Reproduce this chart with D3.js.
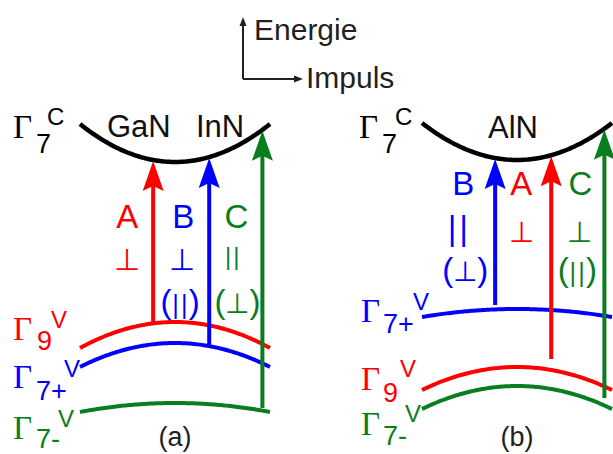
<!DOCTYPE html>
<html>
<head>
<meta charset="utf-8">
<script src="https://cdn.jsdelivr.net/npm/d3@7"></script>
<style>
  html, body { margin: 0; padding: 0; background: #fff; }
  svg { display: block; }
</style>
</head>
<body>
<svg id="chart" width="613" height="454"></svg>
<script>
// ---- data -------------------------------------------------------------
// Band order in every array: Γ7 conduction, Γ9 valence, Γ7+ valence, Γ7- valence
const bandSub = ["7", "9", "7+", "7-"];
const bandSup = ["C", "V", "V", "V"];

const panelNames = ["(a)", "(b)"];
const materialNames = [["GaN", "InN"], ["AlN"]];

// band energy at the zone centre (k = 0) and at the plotted edge (k = ±1), arbitrary units
const bandCentreA = [268, 108, 87, 27];
const bandEdgeA   = [306, 82, 63, 18];
const bandCentreB = [270, 63, 121, 44];
const bandEdgeB   = [307, 40, 113, 21];

// optical transitions: letter, starting band, momentum, start energy, polarisation
const transLetterA = ["A", "B", "C"];
const transBandA   = [1, 2, 3];
const transKA      = [-0.23, 0.36, 0.92];
const transStartA  = [108, 85, 22];
const transPol1A   = ["⊥", "⊥", "||"];
const transPol2A   = ["", "(||)", "(⊥)"];

const transLetterB = ["B", "A", "C"];
const transBandB   = [2, 1, 3];
const transKB      = [-0.23, 0.36, 0.92];
const transStartB  = [125, 71, 32];
const transPol1B   = ["||", "⊥", "⊥"];
const transPol2B   = ["(⊥)", "", "(||)"];

const axisLabels = ["Energie", "Impuls"];

// ---- styling & layout ---------------------------------------------------
const bandColor = ["#000000", "#ff0000", "#0000ff", "#0a7d1e"];
const sans = "'Liberation Sans', Arial, Helvetica, sans-serif";
const serif = "'Liberation Serif', 'Times New Roman', serif";
const symb = "'DejaVu Sans', sans-serif";
const ink = "#231f20";

const layout = [
  {
    kRange: [80, 270],
    materialPos: [[107, 137], [196, 137]],
    letterY: 228, pol1Y: 259, pol2Y: 304,
    letterDx: [-26, -26, -26], pol1Dx: [-26, -27, -30], pol2Dx: [0, -29, -25],
    perpSize: 30, parSize: 23,
    labels: [
      [13, 138, 36, 153, 47, 125],
      [13, 340, 37, 350, 51, 328],
      [13, 388, 36, 400, 64, 377],
      [13, 439, 36, 448, 58, 427]
    ]
  },
  {
    kRange: [422, 612],
    materialPos: [[488, 138]],
    letterY: 195, pol1Y: 231, pol2Y: 272,
    letterDx: [-32, -30, -24], pol1Dx: [-37, -30, -25], pol2Dx: [-30, 0, -27],
    perpSize: 29, parSize: 32,
    labels: [
      [359, 138, 382, 153, 395, 125],
      [361, 390, 383, 402, 400, 377],
      [361, 322, 383, 333, 413, 310],
      [361, 435, 383, 445, 405, 422]
    ]
  }
];

const panels = [
  { centre: bandCentreA, edge: bandEdgeA, letter: transLetterA, band: transBandA,
    k: transKA, start: transStartA, pol1: transPol1A, pol2: transPol2A },
  { centre: bandCentreB, edge: bandEdgeB, letter: transLetterB, band: transBandB,
    k: transKB, start: transStartB, pol1: transPol1B, pol2: transPol2B }
];

// ---- drawing ------------------------------------------------------------
const svg = d3.select("#chart");
svg.append("rect").attr("width", 613).attr("height", 454).attr("fill", "#fff");

const y = d3.scaleLinear().domain([0, 300]).range([430, 130]);

// energy–momentum axis key
const key = svg.append("g");
key.append("path")
  .attr("d", "M243,79 V24 M243,79 H296")
  .attr("fill", "none").attr("stroke", ink).attr("stroke-width", 2);
key.append("path").attr("d", "M243,17 L239.5,26 L246.5,26 Z").attr("fill", ink);
key.append("path").attr("d", "M303,79 L294,75.5 L294,82.5 Z").attr("fill", ink);
key.append("text").attr("x", 254).attr("y", 40)
  .style("font-family", sans).style("font-size", "30px").attr("fill", ink).text(axisLabels[0]);
key.append("text").attr("x", 306).attr("y", 88)
  .style("font-family", sans).style("font-size", "30px").attr("fill", ink).text(axisLabels[1]);

const ks = d3.range(-1, 1.0001, 0.02);

function polLine(g, str, cx, cy, size, color) {
  const t = g.append("text").attr("x", cx).attr("text-anchor", "middle").attr("fill", color);
  let base;
  if (str.startsWith("(")) base = cy + 0.26 * 33;
  else if (str === "⊥") base = cy + 0.365 * size;
  else base = cy + 0.262 * size;
  t.attr("y", base);
  if (str.startsWith("(")) {
    const inner = str.slice(1, -1);
    const innerSize = inner === "⊥" ? 28 : 24;
    t.append("tspan").style("font-family", sans).style("font-size", "33px").text("(");
    t.append("tspan").style("font-family", symb).style("font-weight", inner === "||" ? 400 : 200)
      .style("font-size", innerSize + "px")
      .style("letter-spacing", inner === "||" ? "0.5px" : "0px").text(inner);
    t.append("tspan").style("font-family", sans).style("font-size", "33px").text(")");
  } else {
    t.style("font-family", symb).style("font-weight", str === "||" ? 400 : 200)
      .style("font-size", size + "px")
      .style("letter-spacing", str === "||" ? "0.5px" : "0px").text(str);
  }
}

panels.forEach((p, pi) => {
  const L = layout[pi];
  const x = d3.scaleLinear().domain([-1, 1]).range(L.kRange);
  const g = svg.append("g");
  const bandE = (b, k) => p.centre[b] + (p.edge[b] - p.centre[b]) * k * k;

  // bands
  const line = d3.line().x(k => x(k));
  p.centre.forEach((c, b) => {
    g.append("path")
      .attr("d", line.y(k => y(bandE(b, k)))(ks))
      .attr("fill", "none")
      .attr("stroke", bandColor[b])
      .attr("stroke-width", b === 0 ? 4.5 : 4);
  });

  // band labels  Γ_sub^sup
  L.labels.forEach((pos, b) => {
    const t = g.append("text").attr("fill", bandColor[b]);
    t.append("tspan").attr("x", pos[0]).attr("y", pos[1])
      .style("font-family", serif).style("font-size", "33px").text("Γ");
    t.append("tspan").attr("x", pos[2]).attr("y", pos[3])
      .style("font-family", sans).style("font-size", "27px").text(bandSub[b]);
    t.append("tspan").attr("x", pos[4]).attr("y", pos[5])
      .style("font-family", sans).style("font-size", "24px").text(bandSup[b]);
  });

  // material names
  materialNames[pi].forEach((m, i) => {
    g.append("text").attr("x", L.materialPos[i][0]).attr("y", L.materialPos[i][1])
      .style("font-family", sans).style("font-size", "31px").attr("fill", "#111").text(m);
  });

  // transitions
  p.letter.forEach((letter, i) => {
    const col = bandColor[p.band[i]];
    const kx = x(p.k[i]);
    const yTip = y(bandE(0, p.k[i]) - 1);
    const yBot = y(p.start[i]);
    const headLen = 30, headHalf = 10.5, notch = 5;
    g.append("line")
      .attr("x1", kx).attr("x2", kx)
      .attr("y1", yBot).attr("y2", yTip + headLen - notch - 1)
      .attr("stroke", col).attr("stroke-width", 4);
    g.append("path")
      .attr("d", `M${kx},${yTip} L${kx + headHalf},${yTip + headLen} L${kx},${yTip + headLen - notch} L${kx - headHalf},${yTip + headLen} Z`)
      .attr("fill", col);

    g.append("text")
      .attr("x", kx + L.letterDx[i]).attr("y", L.letterY)
      .attr("text-anchor", "middle")
      .style("font-family", sans).style("font-size", "33px")
      .attr("fill", col).text(letter);

    const s1 = p.pol1[i];
    polLine(g, s1, kx + L.pol1Dx[i], L.pol1Y, s1 === "⊥" ? L.perpSize : L.parSize, col);
    if (p.pol2[i]) polLine(g, p.pol2[i], kx + L.pol2Dx[i], L.pol2Y, 28, col);
  });

  // panel tag
  g.append("text").attr("x", x(0)).attr("y", 446)
    .attr("text-anchor", "middle")
    .style("font-family", sans).style("font-size", "27px").attr("fill", ink)
    .text(panelNames[pi]);
});
</script>
</body>
</html>
